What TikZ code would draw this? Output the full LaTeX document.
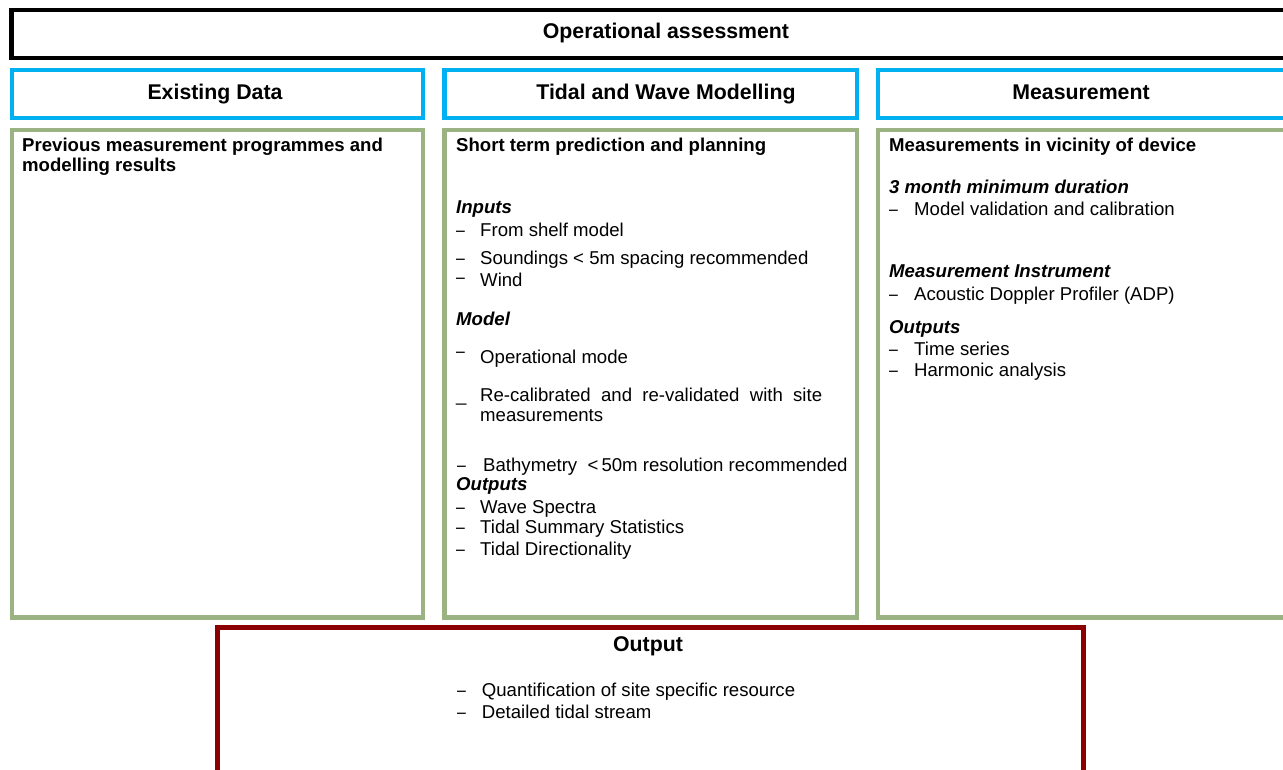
\documentclass[tikz,border=0pt]{standalone}
\usepackage{fontspec}
\usepackage{graphicx}
\setmainfont{Liberation Sans}
\definecolor{hdrblue}{HTML}{00B0F0}
\definecolor{sage}{HTML}{9BB383}
\definecolor{darkred}{HTML}{8B0000}
\newcommand{\mydash}{\scalebox{0.85}[1]{\char"2013}}
\begin{document}
\begin{tikzpicture}[x=1pt,y=-1pt,
  frame/.style={draw, line width=4.6pt, inner sep=0pt, anchor=north west},
  topbox/.style={frame, draw=black},
  bluebox/.style={frame, draw=hdrblue},
  greenbox/.style={frame, draw=sage},
  redbox/.style={frame, draw=darkred},
  hdr/.style={inner sep=0pt, anchor=base, font=\fontsize{21.3}{24}\selectfont\bfseries},
  txt/.style={inner sep=0pt, anchor=base west, font=\fontsize{18.6}{20}\selectfont},
  btxt/.style={txt, font=\fontsize{18.6}{20}\selectfont\bfseries},
  itxt/.style={txt, font=\fontsize{18.6}{20}\selectfont\bfseries\itshape},
  dsh/.style={inner sep=0pt, anchor=base west, font=\fontsize{18.6}{20}\selectfont}
]
\useasboundingbox (0,0) rectangle (1283,769);
\fill[white] (0,0) rectangle (1283,769);
\clip (0,0) rectangle (1283,769);

% frames
\node[topbox, minimum width=1300pt, minimum height=48pt] (top) at (9,7.5) {};
\node[bluebox, minimum width=411pt, minimum height=48pt] (b1) at (9.5,67.5) {};
\node[bluebox, minimum width=412.5pt, minimum height=48pt] (b2) at (442,67.5) {};
\node[bluebox, minimum width=430pt, minimum height=48pt] (b3) at (875.5,67.5) {};
\node[greenbox, minimum width=411pt, minimum height=487.5pt] (g1) at (9.5,127.5) {};
\node[greenbox, minimum width=412.5pt, minimum height=487.5pt] (g2) at (442,127.5) {};
\node[greenbox, minimum width=430pt, minimum height=487.5pt] (g3) at (875.5,127.5) {};
\node[redbox, minimum width=866pt, minimum height=160pt] (out) at (215,625) {};

% headers
\node[hdr] (t0) at (666,38.3) {Operational assessment};
\node[hdr] (t1) at (215,99.3) {Existing Data};
\node[hdr] (t2) at (666,99.3) {Tidal and Wave Modelling};
\node[hdr] (t3) at (1081,99.3) {Measurement};
\node[hdr] (t4) at (648,651.7) {Output};

% left column
\node[btxt] (l1) at (22,151.7) {Previous measurement programmes and};
\node[btxt] (l2) at (22,171.7) {modelling results};

% middle column
\node[btxt] (m0) at (456,151.7) {Short term prediction and planning};
\node[itxt] (m1) at (456,213.3) {Inputs};
\node[dsh] (md1) at (456,236) {\mydash};
\node[txt] (m2) at (480,236) {From shelf model};
\node[dsh] (md2) at (456,264) {\mydash};
\node[txt] (m3) at (480,264) {Soundings {<} 5m spacing recommended};
\node[dsh] (md3) at (456,283) {\mydash};
\node[txt] (m4) at (480,286) {Wind};
\node[itxt] (m5) at (456,325.7) {Model};
\node[dsh] (md5) at (456,357) {\mydash};
\node[txt] (m6) at (480,363) {Operational mode};
\node[dsh] (md6) at (456,401.7) {\_};
\node[txt, text width=342pt, align=justify] (m7) at (480,401.7) {Re-calibrated\hfill and\hfill re-validated\hfill with\hfill site};
\node[txt] (m8) at (480,421.7) {measurements};
\node[dsh] (md9) at (457,471.7) {\mydash};
\node[txt] (m9) at (483,471.7) {Bathymetry\ \ {<}\,50m resolution recommended};
\node[itxt] (m10) at (456,490) {Outputs};
\node[dsh] (md11) at (456,513) {\mydash};
\node[txt] (m11) at (480,513) {Wave Spectra};
\node[dsh] (md12) at (456,533) {\mydash};
\node[txt] (m12) at (480,533) {Tidal Summary Statistics};
\node[dsh] (md13) at (456,555) {\mydash};
\node[txt] (m13) at (480,555) {Tidal Directionality};

% right column
\node[btxt] (r0) at (889,151.7) {Measurements in vicinity of device};
\node[itxt] (r1) at (889,193.5) {3 month minimum duration};
\node[dsh] (rd2) at (889,215) {\mydash};
\node[txt] (r2) at (914,215) {Model validation and calibration};
\node[itxt] (r3) at (889,277.7) {Measurement Instrument};
\node[dsh] (rd4) at (889,300) {\mydash};
\node[txt] (r4) at (914,300) {Acoustic Doppler Profiler (ADP)};
\node[itxt] (r5) at (889,333) {Outputs};
\node[dsh] (rd6) at (889,355.7) {\mydash};
\node[txt] (r6) at (914,355.7) {Time series};
\node[dsh] (rd7) at (889,376.7) {\mydash};
\node[txt] (r7) at (914,376.7) {Harmonic analysis};

% output box
\node[dsh] (od1) at (457,696.7) {\mydash};
\node[txt] (o1) at (481.7,696.7) {Quantification of site specific resource};
\node[dsh] (od2) at (457,718) {\mydash};
\node[txt] (o2) at (481.7,718) {Detailed tidal stream};
\end{tikzpicture}
\end{document}
